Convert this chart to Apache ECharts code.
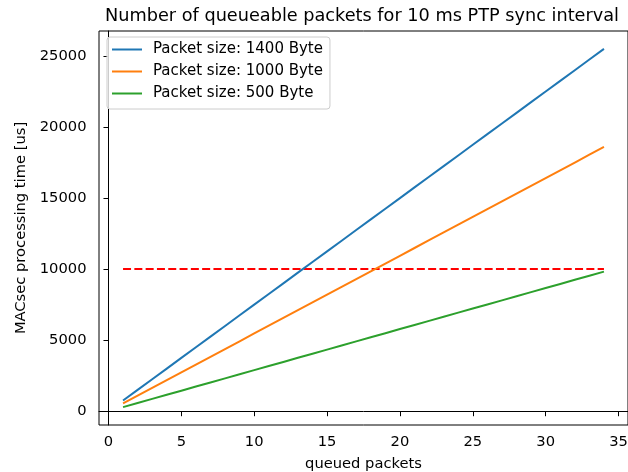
<!DOCTYPE html>
<html>
<head>
<meta charset="utf-8">
<script src="https://cdn.jsdelivr.net/npm/echarts@6/dist/echarts.min.js"></script>
<style>html,body{margin:0;padding:0;background:#fff}#c{width:628px;height:472px}</style>
</head>
<body>
<div id="c"></div>
<script>
const titleText = 'Number of queueable packets for 10 ms PTP sync interval';
const xName = 'queued packets';
const yName = 'MACsec processing time [us]';
const queued = [1,2,3,4,5,6,7,8,9,10,11,12,13,14,15,16,17,18,19,20,21,22,23,24,25,26,27,28,29,30,31,32,33,34];
const names = ['Packet size: 1400 Byte','Packet size: 1000 Byte','Packet size: 500 Byte'];
const time1400 = [750,1500,2250,3000,3750,4500,5250,6000,6750,7500,8250,9000,9750,10500,11250,12000,12750,13500,14250,15000,15750,16500,17250,18000,18750,19500,20250,21000,21750,22500,23250,24000,24750,25500];
const time1000 = [547,1094,1641,2188,2735,3282,3829,4376,4923,5470,6017,6564,7111,7658,8205,8752,9299,9846,10393,10940,11487,12034,12581,13128,13675,14222,14769,15316,15863,16410,16957,17504,18051,18598];
const time500 = [289,578,867,1156,1445,1734,2023,2312,2601,2890,3179,3468,3757,4046,4335,4624,4913,5202,5491,5780,6069,6358,6647,6936,7225,7514,7803,8092,8381,8670,8959,9248,9537,9826];
const limitX = [1, 34];
const limitY = [10000, 10000];
const xTicks = [0,5,10,15,20,25,30,35];
const yTicks = [0,5000,10000,15000,20000,25000];

const colors = ['#1f77b4','#ff7f0e','#2ca02c'];
const font = 'DejaVu Sans';
const fs = 14.7;
const pair = (xs, ys) => xs.map((x, i) => [x, ys[i]]);

const chart = echarts.init(document.getElementById('c'), null, {renderer: 'canvas'});
const lineSeries = [time1400, time1000, time500].map((d, i) => ({
  name: names[i], type: 'line', data: pair(queued, d), showSymbol: false, symbol: 'none',
  lineStyle: {color: colors[i], width: 2}, itemStyle: {color: colors[i]}, animation: false, z: 3
}));
lineSeries.push({
  name: 'limit', type: 'line', data: pair(limitX, limitY), showSymbol: false, symbol: 'none',
  lineStyle: {color: '#ff0000', width: 2, type: [8, 3.3]}, animation: false, z: 2
});

chart.setOption({
  animation: false,
  title: {text: titleText, left: 357, textAlign: 'center', top: 2,
    textStyle: {fontFamily: font, fontSize: 17.7, fontWeight: 'normal', color: '#000'}},
  grid: {left: 99, right: 0, top: 31, bottom: 47, show: true, borderColor: '#000', borderWidth: 1, backgroundColor: '#fff',
    containLabel: false, outerBoundsMode: 'none'},
  legend: {
    data: names, orient: 'vertical', left: 107, top: 37,
    icon: 'rect', itemWidth: 30, itemHeight: 2, itemGap: 7,
    padding: [5, 7, 8, 5], backgroundColor: 'rgba(255,255,255,0.8)', borderColor: '#cccccc', borderWidth: 1, borderRadius: 3,
    textStyle: {fontFamily: font, fontSize: 15, color: '#000', lineHeight: 15, padding: [0, 0, 0, 6]}
  },
  xAxis: {
    type: 'value', min: -0.65, max: 35.65,
    name: xName, nameLocation: 'middle', nameGap: 32,
    nameTextStyle: {fontFamily: font, fontSize: fs, color: '#000'},
    axisLine: {show: true, lineStyle: {color: '#000', width: 1}},
    axisTick: {show: true, length: 5, lineStyle: {color: '#000'}, customValues: xTicks},
    axisLabel: {fontFamily: font, fontSize: fs, color: '#000', margin: 10, customValues: xTicks},
    splitLine: {show: false}
  },
  yAxis: {
    type: 'value', min: -971, max: 26760,
    name: yName, nameLocation: 'middle', nameGap: 54,
    nameTextStyle: {fontFamily: font, fontSize: fs, color: '#000'},
    axisLine: {show: true, lineStyle: {color: '#000', width: 1}},
    axisTick: {show: true, length: 5, lineStyle: {color: '#000'}, customValues: yTicks},
    axisLabel: {fontFamily: font, fontSize: fs, color: '#000', margin: 12.5, customValues: yTicks,
      formatter: v => String(v)},
    splitLine: {show: false}
  },
  series: lineSeries
});
</script>
</body>
</html>
